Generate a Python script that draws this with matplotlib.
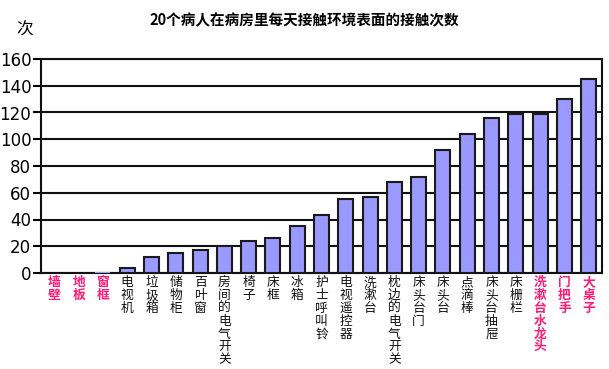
import matplotlib
matplotlib.use("Agg")
import matplotlib.pyplot as plt

plt.rcParams['font.family'] = ['Noto Sans CJK SC', 'DejaVu Sans']

categories = ["墙壁", "地板", "窗框", "电视机", "垃圾箱", "储物柜", "百叶窗", "房间的电气开关",
              "椅子", "床框", "冰箱", "护士呼叫铃", "电视遥控器", "洗漱台", "枕边的电气开关",
              "床头台门", "床头台", "点滴棒", "床头台抽屉", "床栅栏", "洗漱台水龙头", "门把手", "大桌子"]
values = [0, 0, 0.6, 4, 12, 15, 17, 20, 24, 26, 35, 43, 55, 57, 68, 72, 92, 104, 116, 119, 119, 130, 145]
highlight = ["墙壁", "地板", "窗框", "洗漱台水龙头", "门把手", "大桌子"]
yticks = [0, 20, 40, 60, 80, 100, 120, 140, 160]
title = "20个病人在病房里每天接触环境表面的接触次数"
ylabel = "次"

fig = plt.figure(figsize=(6.09, 3.69), dpi=100)
ax = fig.add_axes([41/609, 1-273/369, (602-41)/609, (273-59)/369])

x = list(range(len(categories)))
edges = ['#1a1a1a' if v >= 2 else 'none' for v in values]
ax.bar(x, values, width=0.62, color='#9999FF', edgecolor=edges, linewidth=1.5, zorder=3)

ax.set_xlim(-0.55, len(categories) - 0.45)
ax.set_ylim(0, 160)
ax.set_yticks(yticks)
ax.set_yticklabels([str(t) for t in yticks], fontsize=12, family='DejaVu Sans')
ax.tick_params(axis='y', length=6, width=1.5, pad=1, color='black')
ax.grid(axis='y', color='#111111', linewidth=1.5, zorder=1)
ax.set_xticks([])
for s in ax.spines.values():
    s.set_linewidth(1.5)
    s.set_color('#111111')

for i, c in enumerate(categories):
    hl = c in highlight
    ax.text(i, -2.5, "\n".join(c), ha='center', va='top', fontsize=9.2,
            color='#FF1A75' if hl else '#111111',
            fontweight='bold' if hl else 'normal',
            linespacing=0.98, transform=ax.transData, clip_on=False)

fig.text(304/609, 1-20/369, title, ha='center', va='center', fontsize=10.5, fontweight='bold')
fig.text(25/609, 1-30/369, ylabel, ha='center', va='center', fontsize=12)

fig.savefig("out.png", dpi=100)
